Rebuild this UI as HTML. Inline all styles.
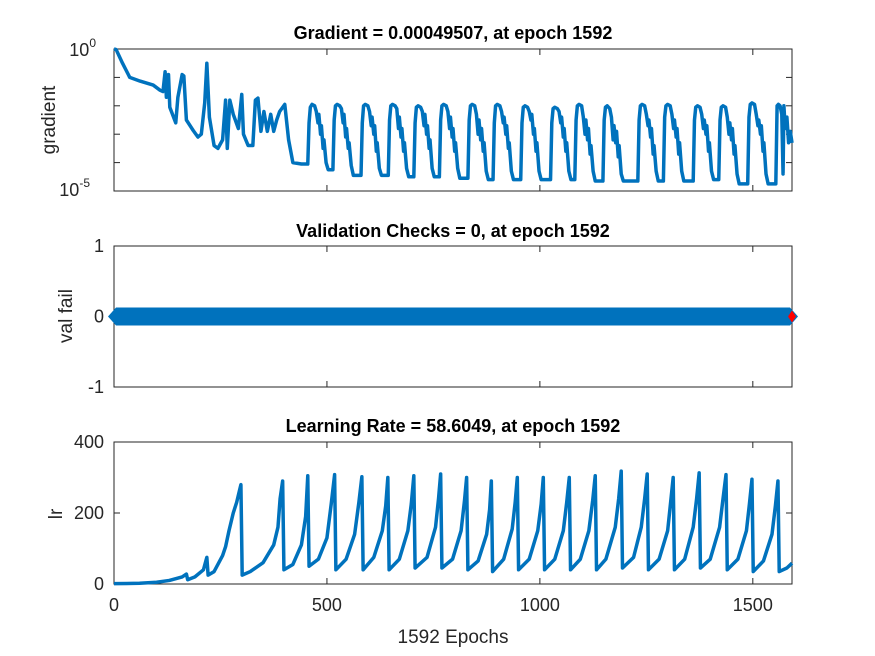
<!DOCTYPE html>
<html><head><meta charset="utf-8"><style>
body{margin:0;background:#fff}
svg{display:block;font-family:"Liberation Sans",Arial,sans-serif}
</style></head><body>
<svg id="fig" width="875" height="656" viewBox="0 0 875 656"></svg>
<script>
const epochTicks=[0,500,1000,1500];
const gradEpochs=[0,5,20,37,61,92,108,115,120,123,128,131,145,150,160,164,170,186,197,205,213,218,224,235,244,255,262,266,272,280,292,300,304,315,326,332,338,345,352,360,368,375,382,389,401,410,420,440,
455,458,461,465,471,475,479,481,485,487,491,493,498,503,
514,517,520,524,530,534,538,540,544,546,550,552,557,562,
580,583,586,590,596,600,604,606,610,612,616,618,623,628,
644,647,650,654,660,664,668,670,674,676,680,682,687,692,
704,707,710,714,720,724,728,730,734,736,740,742,747,752,
764,767,770,774,780,784,788,790,794,796,800,802,807,812,
831,834,837,841,847,851,855,857,861,863,867,869,874,879,
890,893,896,900,906,910,914,916,920,922,926,928,933,938,
955,958,961,965,971,975,979,981,985,987,991,993,998,1003,
1025,1028,1031,1035,1041,1045,1049,1051,1055,1057,1061,1063,1068,1073,
1082,1085,1088,1092,1098,1102,1106,1108,1112,1114,1118,1120,1125,1130,
1148,1151,1154,1158,1164,1168,1172,1174,1178,1180,1184,1186,1191,1196,
1230,1233,1236,1240,1246,1250,1254,1256,1260,1262,1266,1268,1273,1278,
1290,1293,1296,1300,1306,1310,1314,1316,1320,1322,1326,1328,1333,1338,
1360,1363,1366,1370,1376,1380,1384,1386,1390,1392,1396,1398,1403,1408,
1420,1423,1426,1430,1436,1440,1444,1446,1450,1452,1456,1458,1463,1468,
1488,1491,1494,1498,1504,1508,1512,1514,1518,1520,1524,1526,1531,1536,
1554,1557,1560,1564,1568,1571,1573,1576,1580,1584,1588,1592];
const gradLog=[0,-0.02,-0.5,-1.0,-1.13,-1.27,-1.45,-1.5,-0.8,-1.7,-0.9,-2.05,-2.6,-1.7,-0.9,-0.95,-2.5,-2.87,-3.1,-3.0,-1.9,-0.5,-2.4,-3.4,-3.5,-3.2,-1.8,-3.5,-1.8,-2.3,-2.8,-1.6,-3.0,-3.4,-3.4,-1.8,-1.73,-2.9,-2.2,-2.9,-2.3,-2.9,-2.5,-2.2,-1.95,-3.2,-4.0,-4.05,
-4.05,-2.6,-2.05,-1.95,-2.0,-2.2,-2.6,-2.3,-3.0,-2.7,-3.5,-3.2,-4.0,-4.25,
-4.25,-2.5,-2.0,-1.95,-2.0,-2.1,-2.6,-2.3,-3.1,-2.8,-3.5,-3.3,-4.1,-4.45,
-4.45,-2.6,-2.0,-1.95,-2.0,-2.2,-2.7,-2.4,-3.0,-2.7,-3.6,-3.3,-4.2,-4.45,
-4.45,-2.5,-2.0,-1.95,-2.0,-2.1,-2.8,-2.4,-3.1,-2.8,-3.6,-3.3,-4.2,-4.5,
-4.5,-2.6,-2.05,-2.0,-2.05,-2.2,-2.7,-2.3,-3.0,-2.7,-3.5,-3.2,-4.2,-4.5,
-4.5,-2.5,-2.0,-1.95,-2.0,-2.2,-2.8,-2.4,-3.1,-2.8,-3.6,-3.3,-4.2,-4.55,
-4.55,-2.5,-2.0,-1.95,-2.0,-2.3,-3.0,-2.5,-3.2,-2.8,-3.6,-3.3,-4.3,-4.6,
-4.6,-2.6,-2.0,-1.95,-2.0,-2.2,-2.6,-2.4,-3.0,-2.7,-3.5,-3.3,-4.3,-4.6,
-4.6,-2.6,-2.05,-2.0,-2.05,-2.2,-2.5,-2.3,-3.0,-2.8,-3.6,-3.3,-4.3,-4.6,
-4.6,-2.6,-2.1,-2.05,-2.1,-2.2,-2.6,-2.4,-3.1,-2.8,-3.6,-3.3,-4.3,-4.6,
-4.6,-2.5,-2.0,-1.95,-2.0,-2.4,-3.0,-2.5,-3.2,-2.8,-3.7,-3.4,-4.3,-4.65,
-4.65,-2.5,-2.05,-2.0,-2.1,-2.4,-3.2,-2.7,-3.3,-2.9,-3.8,-3.4,-4.4,-4.65,
-4.65,-2.5,-2.0,-1.95,-2.0,-2.3,-2.7,-2.5,-3.1,-2.8,-3.7,-3.4,-4.3,-4.65,
-4.65,-2.4,-2.0,-1.95,-2.0,-2.3,-2.8,-2.5,-3.1,-2.8,-3.7,-3.3,-4.3,-4.65,
-4.65,-2.5,-2.05,-2.0,-2.05,-2.3,-2.8,-2.5,-3.0,-2.7,-3.6,-3.3,-4.3,-4.6,
-4.6,-2.5,-2.05,-2.0,-2.05,-2.4,-3.0,-2.6,-3.2,-2.8,-3.7,-3.4,-4.4,-4.75,
-4.75,-2.4,-1.95,-1.9,-1.95,-2.3,-2.7,-2.5,-3.0,-2.7,-3.6,-3.3,-4.4,-4.75,
-4.75,-2.0,-1.95,-2.0,-2.3,-4.4,-2.0,-2.8,-2.4,-3.3,-2.9,-3.305];
const valEpochs=[0,1592];
const valFail=[0,0];
const lrEpochs=[0,60,100,130,160,170,173,190,210,218,221,235,255,262,270,280,288,294,298,301,320,350,375,385,390,396,399,420,440,450,455,458,480,500,510,518,521,545,565,575,582,585,610,630,638,643,646,670,690,698,704,707,735,755,762,767,770,795,815,823,828,831,855,875,882,886,889,915,935,942,947,950,975,995,1003,1008,1011,1035,1055,1063,1069,1072,1095,1115,1124,1130,1133,1155,1177,1185,1191,1194,1220,1238,1246,1252,1255,1280,1300,1307,1313,1316,1340,1360,1368,1374,1377,1400,1422,1430,1437,1440,1465,1485,1492,1498,1501,1525,1545,1553,1559,1562,1580,1592];
const lrValues=[1,2,5,10,20,28,12,20,40,75,25,35,80,105,150,200,230,260,280,25,35,60,110,160,240,290,40,55,110,190,305,50,70,130,225,308,40,70,140,230,302,40,75,150,220,300,40,70,150,225,305,45,75,160,240,310,45,70,150,235,300,40,65,140,210,290,35,70,155,230,300,40,70,150,225,300,40,70,150,230,300,40,70,150,235,305,40,70,160,240,318,45,75,160,240,310,40,70,150,230,300,40,70,160,240,313,45,70,160,240,308,40,70,150,225,295,35,65,140,220,290,35,45,58.6];
const lrTicks=[0,200,400];
const gradTickExp=[0,-1,-2,-3,-4,-5];
const valTicks=[-1,0,1];

const NS="http://www.w3.org/2000/svg";
const svg=document.getElementById('fig');
function el(tag,attrs,parent){const e=document.createElementNS(NS,tag);for(const k in attrs)e.setAttribute(k,attrs[k]);(parent||svg).appendChild(e);return e;}
const L=114,R=792;
const X=e=>L+(e/1592)*(R-L);
const BLUE="#0072BD";
function axesBox(top,bot,name){
  const g=el('g',{});
  
  
  el('rect',{x:L,y:top,width:R-L,height:bot-top,fill:'#fff',stroke:'#262626','stroke-width':1},g);
  epochTicks.forEach(t=>{el('line',{x1:X(t),x2:X(t),y1:bot,y2:bot-6,stroke:'#262626'},g);el('line',{x1:X(t),x2:X(t),y1:top,y2:top+6,stroke:'#262626'},g);});
  return g;
}
function text(x,y,s,opt,name){
  const t=el('text',Object.assign({x:x,y:y,fill:'#262626','font-size':17},opt||{}));
  t.textContent=s;
  
  
  return t;
}
// Panel 1: gradient
const gT=49,gB=191;
const GY=v=>gT+(-v/5)*(gB-gT);
const g1=axesBox(gT,gB,'gradient-axes');
gradTickExp.forEach(p=>{el('line',{x1:L,x2:L+6,y1:GY(p),y2:GY(p),stroke:'#262626'},g1);el('line',{x1:R,x2:R-6,y1:GY(p),y2:GY(p),stroke:'#262626'},g1);});
let t0=text(96,GY(0)+7,'10',{'text-anchor':'end','font-size':18},'y-tick-1e0');
let s0=el('tspan',{dy:-9,'font-size':12},t0);s0.textContent='0';
let t5=text(90,GY(-5)+5,'10',{'text-anchor':'end','font-size':18},'y-tick-1e-5');
let s5=el('tspan',{dy:-9,'font-size':12},t5);s5.textContent='-5';
const gp=el('polyline',{points:gradEpochs.map((e,i)=>X(e)+','+GY(gradLog[i])).join(' '),fill:'none',stroke:BLUE,'stroke-width':3.5,'stroke-linejoin':'round'});


text(453,39,'Gradient = 0.00049507, at epoch 1592',{'text-anchor':'middle','font-weight':'bold','font-size':18,fill:'#000'},'gradient-title');
text(55,120,'gradient',{'text-anchor':'middle','font-size':19,transform:'rotate(-90 55 120)'},'gradient-y-label');

// Panel 2: val fail
const vT=246,vB=387;
const VY=v=>vT+(1-v)/2*(vB-vT);
const g2=axesBox(vT,vB,'val-fail-axes');
valTicks.forEach(v=>{el('line',{x1:L,x2:L+6,y1:VY(v),y2:VY(v),stroke:'#262626'},g2);el('line',{x1:R,x2:R-6,y1:VY(v),y2:VY(v),stroke:'#262626'},g2);text(104,VY(v)+6,String(v),{'text-anchor':'end','font-size':18},'val-y-tick');});
const vx0=X(valEpochs[0]),vx1=X(valEpochs[valEpochs.length-1]),vy=VY(valFail[0]);
const band=el('polygon',{points:`${vx0-6},${vy} ${vx0+2},${vy-9} ${vx1-2},${vy-9} ${vx1+6},${vy} ${vx1-2},${vy+9} ${vx0+2},${vy+9}`,fill:BLUE});


const vyEnd=VY(valFail[valFail.length-1]);
const red=el('polygon',{points:`${vx1-4},${vyEnd} ${vx1},${vyEnd-6} ${vx1+4},${vyEnd} ${vx1},${vyEnd+6}`,fill:'#ff0000'});


text(453,237,'Validation Checks = 0, at epoch 1592',{'text-anchor':'middle','font-weight':'bold','font-size':18,fill:'#000'},'val-title');
text(72,316,'val fail',{'text-anchor':'middle','font-size':19,transform:'rotate(-90 72 316)'},'val-y-label');

// Panel 3: learning rate
const lT=442,lB=584;
const LY=v=>lB-(v/400)*(lB-lT);
const g3=axesBox(lT,lB,'lr-axes');
lrTicks.forEach(v=>{el('line',{x1:L,x2:L+6,y1:LY(v),y2:LY(v),stroke:'#262626'},g3);el('line',{x1:R,x2:R-6,y1:LY(v),y2:LY(v),stroke:'#262626'},g3);text(104,LY(v)+6,String(v),{'text-anchor':'end','font-size':18},'lr-y-tick');});
epochTicks.forEach(t=>text(X(t),611,String(t),{'text-anchor':'middle','font-size':18},'x-tick-label'));
const lp=el('polyline',{points:lrEpochs.map((e,i)=>X(e)+','+LY(lrValues[i])).join(' '),fill:'none',stroke:BLUE,'stroke-width':3.5,'stroke-linejoin':'round'});


text(453,432,'Learning Rate = 58.6049, at epoch 1592',{'text-anchor':'middle','font-weight':'bold','font-size':18,fill:'#000'},'lr-title');
text(62,514,'lr',{'text-anchor':'middle','font-size':19,transform:'rotate(-90 62 514)'},'lr-y-label');
text(453,643,'1592 Epochs',{'text-anchor':'middle','font-size':19},'x-axis-title');
</script>
</body></html>
